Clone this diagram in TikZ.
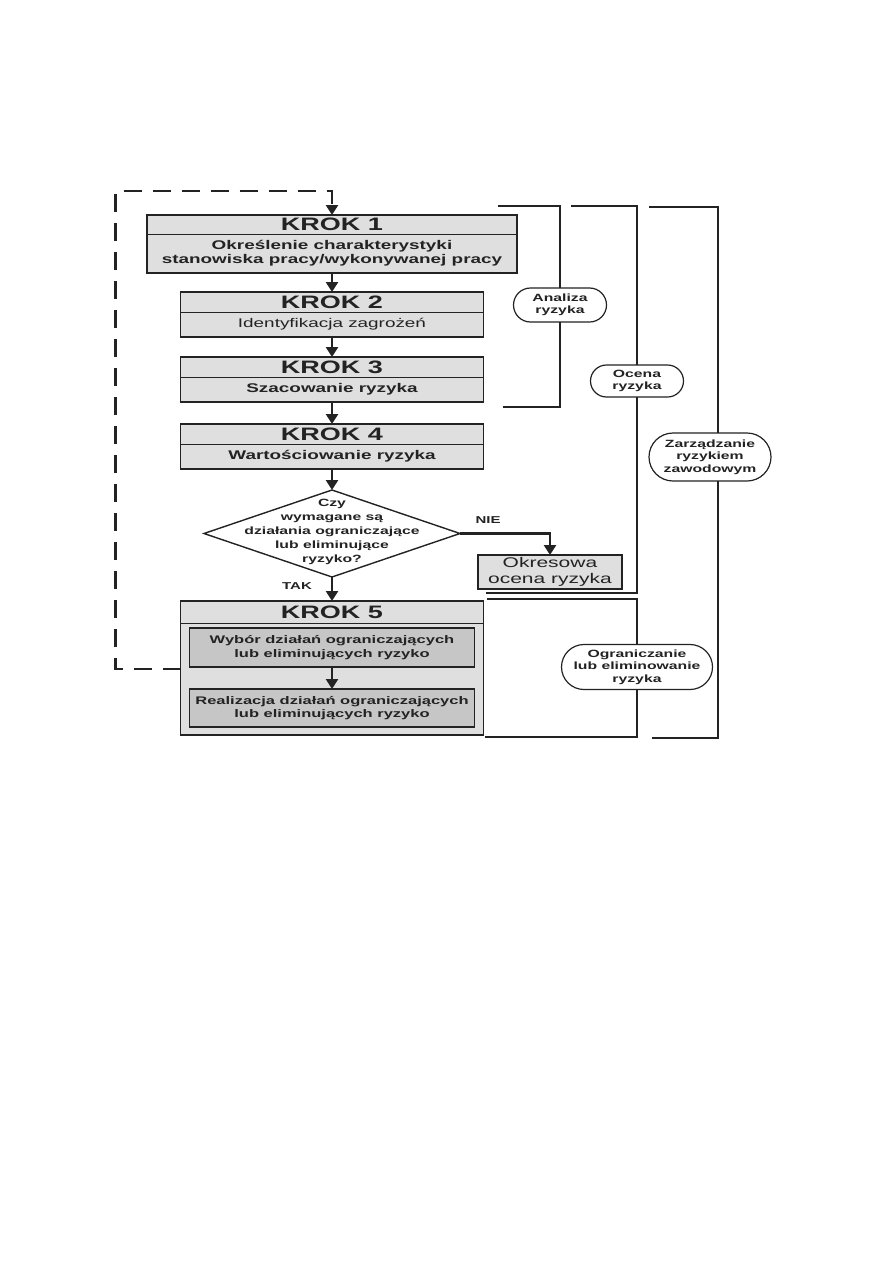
\documentclass[tikz,border=0pt]{standalone}
\usepackage{fontspec}
\setmainfont{Liberation Sans}[FakeStretch=1.5]
\usetikzlibrary{positioning,arrows.meta,shapes,calc}
\definecolor{boxgray}{RGB}{223,223,223}
\definecolor{ingray}{RGB}{198,198,198}
\definecolor{ink}{RGB}{35,35,35}

\begin{document}
\begin{tikzpicture}[x=1pt, y=1pt, node distance=20pt,
  every node/.style={text=ink, outer sep=0pt},
  hdr/.style={draw=ink, line width=0.9pt, fill=boxgray, minimum width=303pt, minimum height=20pt, inner sep=0pt, font=\bfseries\fontsize{18}{18}\selectfont},
  bdy/.style={draw=ink, line width=0.9pt, fill=boxgray, minimum width=303pt, minimum height=25pt, inner sep=0pt, align=center, font=\bfseries\fontsize{12.6}{14}\selectfont},
  frame/.style={draw=ink, line width=1.8pt},
  inbox/.style={draw=ink, line width=1.8pt, fill=ingray, minimum width=285pt, minimum height=39pt, inner sep=0pt, align=center, font=\bfseries\fontsize{11}{13.5}\selectfont},
  okbox/.style={draw=ink, line width=1.8pt, fill=boxgray, minimum width=144pt, minimum height=34pt, inner sep=0pt, align=center, font=\fontsize{14}{15.5}\selectfont},
  pill/.style={rounded rectangle, draw=ink, line width=1.2pt, fill=white, inner sep=0pt, align=center, font=\bfseries\fontsize{10.5}{12.5}\selectfont},
  lbl/.style={font=\bfseries\fontsize{10}{12}\selectfont},
  arr/.style={draw=ink, line width=2.8pt, -{Triangle[width=12pt,length=10pt]}},
  brk/.style={draw=ink, line width=2.8pt},
  back/.style={draw=ink, line width=2.8pt, dash pattern=on 18pt off 11pt, -{Triangle[width=12pt,length=10pt]}}]
\path[use as bounding box, fill=white] (0,0) rectangle (893,-1263);

% kroki
\node[hdr, minimum width=370pt, minimum height=19pt] (h1) at (332,-224.5) {KROK 1};
\node[bdy, minimum width=370pt, minimum height=39pt, below=0pt of h1] (b1) {Określenie charakterystyki\\stanowiska pracy/wykonywanej pracy};
\node[hdr, below=19pt of b1] (h2) {KROK 2};
\node[bdy, below=0pt of h2, font=\fontsize{12.6}{14}\selectfont] (b2) {Identyfikacja zagrożeń};
\node[hdr, below=20pt of b2] (h3) {KROK 3};
\node[bdy, below=0pt of h3] (b3) {Szacowanie ryzyka};
\node[hdr, below=22pt of b3] (h4) {KROK 4};
\node[bdy, below=0pt of h4] (b4) {Wartościowanie ryzyka};
\node[diamond, draw=ink, line width=1.4pt, fill=white, minimum width=256pt, minimum height=87pt, inner sep=0pt, below=21pt of b4, font=\bfseries\fontsize{10.5}{14}\selectfont] (q)
  {\raisebox{-1pt}[0pt][0pt]{\makebox[0pt]{\begin{tabular}{@{}c@{}}Czy\\wymagane są\\działania ograniczające\\lub eliminujące\\ryzyko?\end{tabular}}}};
\node[okbox] (okr) at (550,-572) {Okresowa\\ocena ryzyka};
\node[hdr, minimum height=22pt, below=24pt of q] (h5) {KROK 5};
\node[bdy, minimum height=112pt, below=0pt of h5] (b5) {};
\node[inbox, below=5pt of b5.north] (w1) {Wybór działań ograniczających\\lub eliminujących ryzyko};
\node[inbox, minimum height=38pt, above=8pt of b5.south] (w2) {Realizacja działań ograniczających\\lub eliminujących ryzyko};
\foreach \k in {1,...,5} \draw[frame] (h\k.north west) rectangle (b\k.south east);

\node[lbl] (nie) at ($(q.east)+(28,13)$) {NIE};
\node[lbl] (tak) at ($(q.south)+(-35,-9)$) {TAK};

% strzalki
\draw[arr] (b1.south) -- (h2.north);
\draw[arr] (b2.south) -- (h3.north);
\draw[arr] (b3.south) -- (h4.north);
\draw[arr] (b4.south) -- (q.north);
\draw[arr] (q.south) -- (h5.north);
\draw[arr] (q.east) -| (okr.north);
\draw[arr] (w1.south) -- (w2.north);
\draw[back] ([yshift=10pt]b5.west) -- ++(-65,0) |- ([yshift=24pt]h1.north) -- (h1.north);

% klamry
\coordinate (a1) at (498,-206); \coordinate (a2) at (503,-407);
\coordinate (o1) at (571,-206); \coordinate (o2) at (486,-593);
\coordinate (z1) at (649,-207); \coordinate (z2) at (652,-738);
\coordinate (g1) at (487,-599); \coordinate (g2) at (485,-737);
\node[pill, minimum width=93pt, minimum height=34pt] (an) at (560,-305) {Analiza\\ryzyka};
\node[pill, minimum width=93pt, minimum height=32pt] (oc) at (637,-381) {Ocena\\ryzyka};
\node[pill, minimum width=122pt, minimum height=48pt] (zr) at (710,-457) {Zarządzanie\\ryzykiem\\zawodowym};
\node[pill, minimum width=151pt, minimum height=45pt] (og) at (637,-667) {Ograniczanie\\lub eliminowanie\\ryzyka};
\draw[brk] (a1) -| (an.north); \draw[brk] (an.south) |- (a2);
\draw[brk] (o1) -| (oc.north); \draw[brk] (oc.south) |- (o2);
\draw[brk] (z1) -| ([xshift=8pt]zr.north); \draw[brk] ([xshift=8pt]zr.south) |- (z2);
\draw[brk] (g1) -| (og.north); \draw[brk] (og.south) |- (g2);
\end{tikzpicture}
\end{document}
